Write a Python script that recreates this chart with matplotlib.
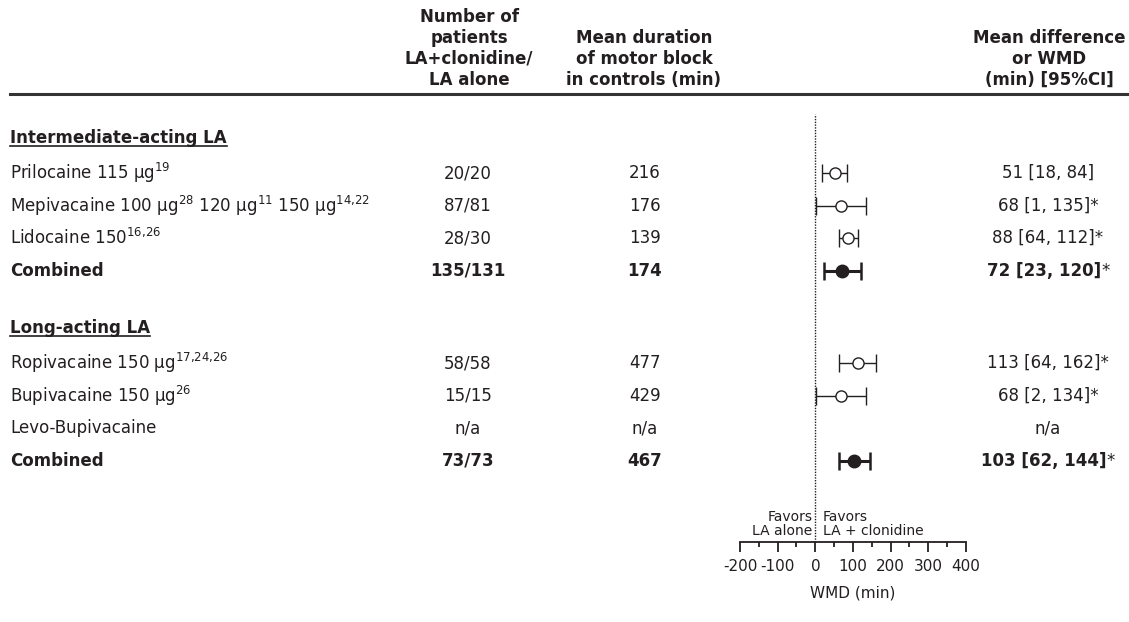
import matplotlib
matplotlib.use("Agg")
import matplotlib.pyplot as plt
import matplotlib.transforms as mtransforms

plt.rcParams['font.family'] = ['DejaVu Sans']
plt.rcParams['mathtext.fontset'] = 'dejavusans'

INK = '#231f20'

# -------------------------
# Data
# -------------------------
groups = ["Intermediate-acting LA", "Long-acting LA"]

labels_int = [r"Prilocaine 115 µg$^{19}$",
              r"Mepivacaine 100 µg$^{28}$ 120 µg$^{11}$ 150 µg$^{14{,}22}$",
              r"Lidocaine 150$^{16{,}26}$",
              "Combined"]
patients_int = ["20/20", "87/81", "28/30", "135/131"]
duration_int = ["216", "176", "139", "174"]
wmd_int = [51, 68, 88, 72]
lo_int = [18, 1, 64, 23]
hi_int = [84, 135, 112, 120]
signif_int = [False, True, True, True]

labels_long = [r"Ropivacaine 150 µg$^{17{,}24{,}26}$",
               r"Bupivacaine 150 µg$^{26}$",
               "Levo-Bupivacaine",
               "Combined"]
patients_long = ["58/58", "15/15", "n/a", "73/73"]
duration_long = ["477", "429", "n/a", "467"]
wmd_long = [113, 68, None, 103]
lo_long = [64, 2, None, 62]
hi_long = [162, 134, None, 144]
signif_long = [True, True, False, True]

wmd_ticks = [-200, -100, 0, 100, 200, 300, 400]

# -------------------------
# Layout
# -------------------------
W, H = 1129, 622
fig = plt.figure(figsize=(W / 100, H / 100), dpi=100)

def fx(x):
    return x / W

def fy(y):
    return 1 - y / H

ax = fig.add_axes([fx(740), fy(542), 226 / W, (542 - 114) / H])
ax.set_xlim(-200, 400)
ax.set_ylim(11.32, -1.81)

row_int = [0, 1, 2, 3]
row_long = [5.83, 6.83, 7.83, 8.83]
head_rows = [-1.07, 4.75]

# text in figure x, row y
tr = mtransforms.blended_transform_factory(fig.transFigure, ax.transData)

x_label = fx(10)
x_pat = fx(468)
x_dur = fx(645)
x_wmd = fx(1048)

# -------------------------
# Header
# -------------------------
hdr = dict(fontsize=12, fontweight='bold', color=INK, ha='center',
           va='bottom', multialignment='center', linespacing=1.22)
fig.text(fx(469), fy(89), "Number of\npatients\nLA+clonidine/\nLA alone", **hdr)
fig.text(fx(644), fy(89), "Mean duration\nof motor block\nin controls (min)", **hdr)
fig.text(fx(1049), fy(89), "Mean difference\nor WMD\n(min) [95%CI]", **hdr)
fig.add_artist(plt.Line2D([fx(10), 1], [fy(94), fy(94)], color='#333333',
                          lw=2.2, transform=fig.transFigure))

# -------------------------
# Table rows
# -------------------------
heads = []
for g, hy in zip(groups, head_rows):
    t = fig.text(x_label, hy, g, transform=tr, fontsize=12, fontweight='bold',
                 color=INK, ha='left', va='center')
    heads.append(t)

def draw_rows(rows, labels, pats, durs, wmd, lo, hi, signif):
    for i, y in enumerate(rows):
        combined = labels[i] == "Combined"
        fw = 'bold' if combined else 'normal'
        kw = dict(transform=tr, fontsize=12, color=INK, va='center')
        fig.text(x_label, y, labels[i], ha='left', fontweight=fw, **kw)
        fig.text(x_pat, y, pats[i], ha='center', fontweight=fw, **kw)
        fig.text(x_dur, y, durs[i], ha='center', fontweight=fw, **kw)
        if wmd[i] is None:
            fig.text(x_wmd, y, "n/a", ha='center', **kw)
            continue
        txt = f"{wmd[i]} [{lo[i]}, {hi[i]}]"
        if combined:
            t = fig.text(x_wmd - fx(4), y, txt, ha='center', fontweight='bold', **kw)
            if signif[i]:
                ax.annotate("*", xy=(1, 0), xycoords=t, ha='left', va='bottom',
                            fontsize=12, color=INK, annotation_clip=False)
            ax.errorbar(wmd[i], y, xerr=[[wmd[i] - lo[i]], [hi[i] - wmd[i]]],
                        fmt='o', ms=9, mfc=INK, mec=INK, ecolor=INK,
                        elinewidth=2.2, capsize=6.5, capthick=1.8, clip_on=False)
        else:
            fig.text(x_wmd, y, txt + ("*" if signif[i] else ""), ha='center', **kw)
            ax.errorbar(wmd[i], y, xerr=[[wmd[i] - lo[i]], [hi[i] - wmd[i]]],
                        fmt='o', ms=8, mfc='white', mec=INK, mew=1.0, ecolor=INK,
                        elinewidth=1.0, capsize=6.5, capthick=1.0, clip_on=False)

draw_rows(row_int, labels_int, patients_int, duration_int,
          wmd_int, lo_int, hi_int, signif_int)
draw_rows(row_long, labels_long, patients_long, duration_long,
          wmd_long, lo_long, hi_long, signif_long)

# -------------------------
# Forest axis
# -------------------------
ax.axvline(0, color=INK, lw=1.0, dashes=(1, 1), zorder=0)
for s in ['top', 'right', 'left']:
    ax.spines[s].set_visible(False)
ax.spines['bottom'].set_linewidth(1.3)
ax.spines['bottom'].set_color(INK)
ax.set_yticks([])
ax.set_xticks(wmd_ticks)
ax.set_xticklabels([str(v) for v in wmd_ticks])
ax.set_xticks([-150, -50, 50, 150, 250, 350], minor=True)
ax.tick_params(axis='x', which='major', direction='out', length=7.5, width=1.3,
               color=INK, labelsize=11, labelcolor=INK, pad=5)
ax.tick_params(axis='x', which='minor', direction='out', length=3.8, width=1.3,
               color=INK)
ax.set_xlabel("WMD (min)", fontsize=11, color=INK, labelpad=8)
ax.patch.set_visible(False)

fav = mtransforms.blended_transform_factory(ax.transData, ax.transAxes)
ax.text(-8, 0.058, "Favors", transform=fav, ha='right', va='center', fontsize=10, color=INK)
ax.text(-8, 0.026, "LA alone", transform=fav, ha='right', va='center', fontsize=10, color=INK)
ax.text(20, 0.058, "Favors", transform=fav, ha='left', va='center', fontsize=10, color=INK)
ax.text(20, 0.026, "LA + clonidine", transform=fav, ha='left', va='center', fontsize=10, color=INK)

# underline the group headings
fig.canvas.draw()
r = fig.canvas.get_renderer()
for t in heads:
    bb = t.get_window_extent(r).transformed(fig.transFigure.inverted())
    fig.add_artist(plt.Line2D([bb.x0, bb.x1], [bb.y0 + 0.002, bb.y0 + 0.002],
                              color=INK, lw=1.2, transform=fig.transFigure))

fig.savefig("out.png", dpi=100)
